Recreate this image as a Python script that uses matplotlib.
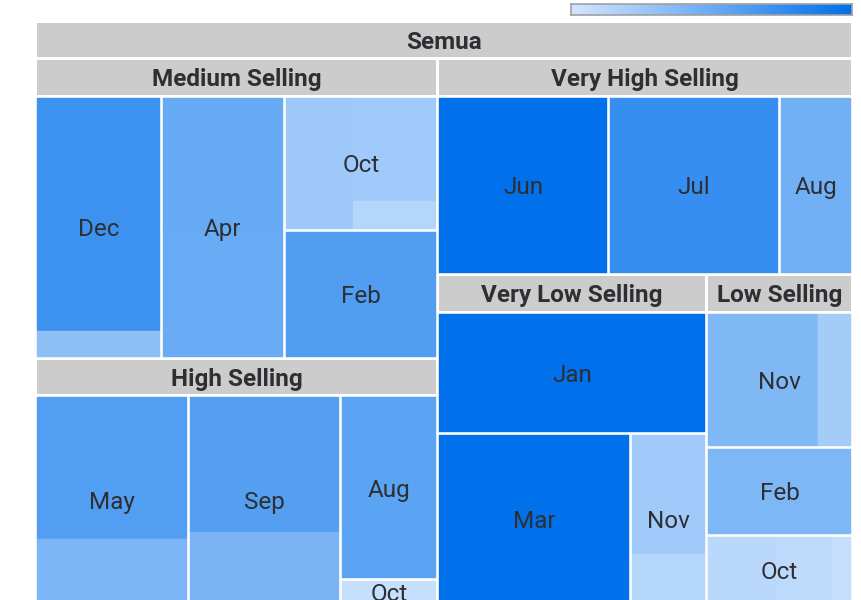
import matplotlib
matplotlib.use("Agg")
import matplotlib.pyplot as plt
from matplotlib.patches import Rectangle
from matplotlib.colors import LinearSegmentedColormap
import numpy as np

# ---------------- data ----------------
root_label = "Semua"
categories = ["Medium Selling", "High Selling", "Very High Selling",
              "Very Low Selling", "Low Selling"]

medium_months = ["Dec", "Apr", "Oct", "Feb"]
medium_values = [[338.9, 38.2], [189.6, 179.7], [105.8, 102.0, 28.0], [224.4]]
medium_colors = [[0.71, 0.33], [0.51, 0.50], [0.25, 0.24, 0.14], [0.62]]

high_months = ["May", "Sep", "Aug", "Oct"]
high_values = [[259.5, 115.6], [244.6, 129.1], [210.2], [28.5]]
high_colors = [[0.61, 0.41], [0.60, 0.42], [0.57], [0.06]]

very_high_months = ["Jun", "Jul", "Aug"]
very_high_values = [[368.8], [370.8], [157.2]]
very_high_colors = [[1.0], [0.74], [0.46]]

very_low_months = ["Jan", "Mar", "Nov"]
very_low_values = [[367.6], [372.4], [103.7, 42.2]]
very_low_colors = [[1.0], [1.0], [0.24, 0.14]]

low_months = ["Nov", "Feb", "Oct"]
low_values = [[171.6, 51.0], [144.8], [53.8, 43.7, 15.2]]
low_colors = [[0.39, 0.22], [0.40], [0.12, 0.105, 0.07]]

month_lists = [medium_months, high_months, very_high_months, very_low_months, low_months]
value_lists = [medium_values, high_values, very_high_values, very_low_values, low_values]
color_lists = [medium_colors, high_colors, very_high_colors, very_low_colors, low_colors]

# ---------------- style ----------------
MIN_COLOR = "#d2e6fd"
MAX_COLOR = "#0070eb"
HEADER_COLOR = "#cccccc"
TEXT_COLOR = "#2d2f33"
FONT = ["Roboto", "DejaVu Sans"]
cmap = LinearSegmentedColormap.from_list("tm", [MIN_COLOR, MAX_COLOR])

W, H = 862, 600
CHART = (35.5, 21.0, 852.5, 604.0)   # x0, y0, x1, y1 in pixels
HEADER_H = 37.5
GAP = 1.5
ASPECT = 1.063
TEXT_DY = 2.5
FS = 17.5

fig = plt.figure(figsize=(W / 100, H / 100), dpi=100)
ax = fig.add_axes([0, 0, 1, 1])
ax.set_xlim(0, W)
ax.set_ylim(H, 0)
ax.axis("off")


def binary_layout(values, x0, y0, x1, y1):
    out = [None] * len(values)

    def part(i, j, x0, y0, x1, y1):
        if j - i == 1:
            out[i] = (x0, y0, x1, y1)
            return
        tot = sum(values[i:j])
        best_k, best_d, acc = i + 1, None, 0.0
        for k in range(i + 1, j):
            acc += values[k - 1]
            d = abs(acc - tot / 2)
            if best_d is None or d < best_d:
                best_d, best_k = d, k
        f = sum(values[i:best_k]) / tot
        if (x1 - x0) * ASPECT > (y1 - y0):
            xm = x0 + (x1 - x0) * f
            part(i, best_k, x0, y0, xm, y1)
            part(best_k, j, xm, y0, x1, y1)
        else:
            ym = y0 + (y1 - y0) * f
            part(i, best_k, x0, y0, x1, ym)
            part(best_k, j, x0, ym, x1, y1)

    part(0, len(values), x0, y0, x1, y1)
    return out


def draw_header(label, x0, y0, x1, y1):
    ax.add_patch(Rectangle((x0 + GAP, y0 + GAP), x1 - x0 - 2 * GAP, HEADER_H - 2 * GAP,
                           facecolor=HEADER_COLOR, edgecolor="none"))
    ax.text((x0 + x1) / 2, y0 + HEADER_H / 2 + TEXT_DY, label, ha="center", va="center",
            fontsize=FS, fontweight="bold", color=TEXT_COLOR, family=FONT)


def draw_month(label, subvals, subcols, x0, y0, x1, y1):
    bx0, by0, bx1, by1 = x0 + GAP, y0 + GAP, x1 - GAP, y1 - GAP
    rects = binary_layout(subvals, bx0, by0, bx1, by1)
    for (rx0, ry0, rx1, ry1), cv in zip(rects, subcols):
        c = cmap(cv)
        ax.add_patch(Rectangle((rx0, ry0), rx1 - rx0, ry1 - ry0,
                               facecolor=c, edgecolor=c, linewidth=0.3))
    ax.text((bx0 + bx1) / 2, (by0 + by1) / 2 + TEXT_DY, label, ha="center", va="center",
            fontsize=FS, color=TEXT_COLOR, family=FONT)


cx0, cy0, cx1, cy1 = CHART
draw_header(root_label, cx0, cy0, cx1, cy1)
cat_totals = [sum(sum(v) for v in vals) for vals in value_lists]
cat_rects = binary_layout(cat_totals, cx0, cy0 + HEADER_H, cx1, cy1)

for cat, months, vals, cols, (x0, y0, x1, y1) in zip(categories, month_lists, value_lists,
                                                      color_lists, cat_rects):
    draw_header(cat, x0, y0, x1, y1)
    month_totals = [sum(v) for v in vals]
    mrects = binary_layout(month_totals, x0, y0 + HEADER_H, x1, y1)
    for m, v, c, (mx0, my0, mx1, my1) in zip(months, vals, cols, mrects):
        draw_month(m, v, c, mx0, my0, mx1, my1)

# colour scale bar
cax = fig.add_axes([571 / W, 1 - 15 / H, 281 / W, 11 / H])
cax.imshow(np.linspace(0, 1, 256).reshape(1, -1), aspect="auto", cmap=cmap)
cax.set_xticks([])
cax.set_yticks([])
for s in cax.spines.values():
    s.set_color("#a0a0a0")
    s.set_linewidth(1.2)

fig.savefig("out.png", dpi=100)
